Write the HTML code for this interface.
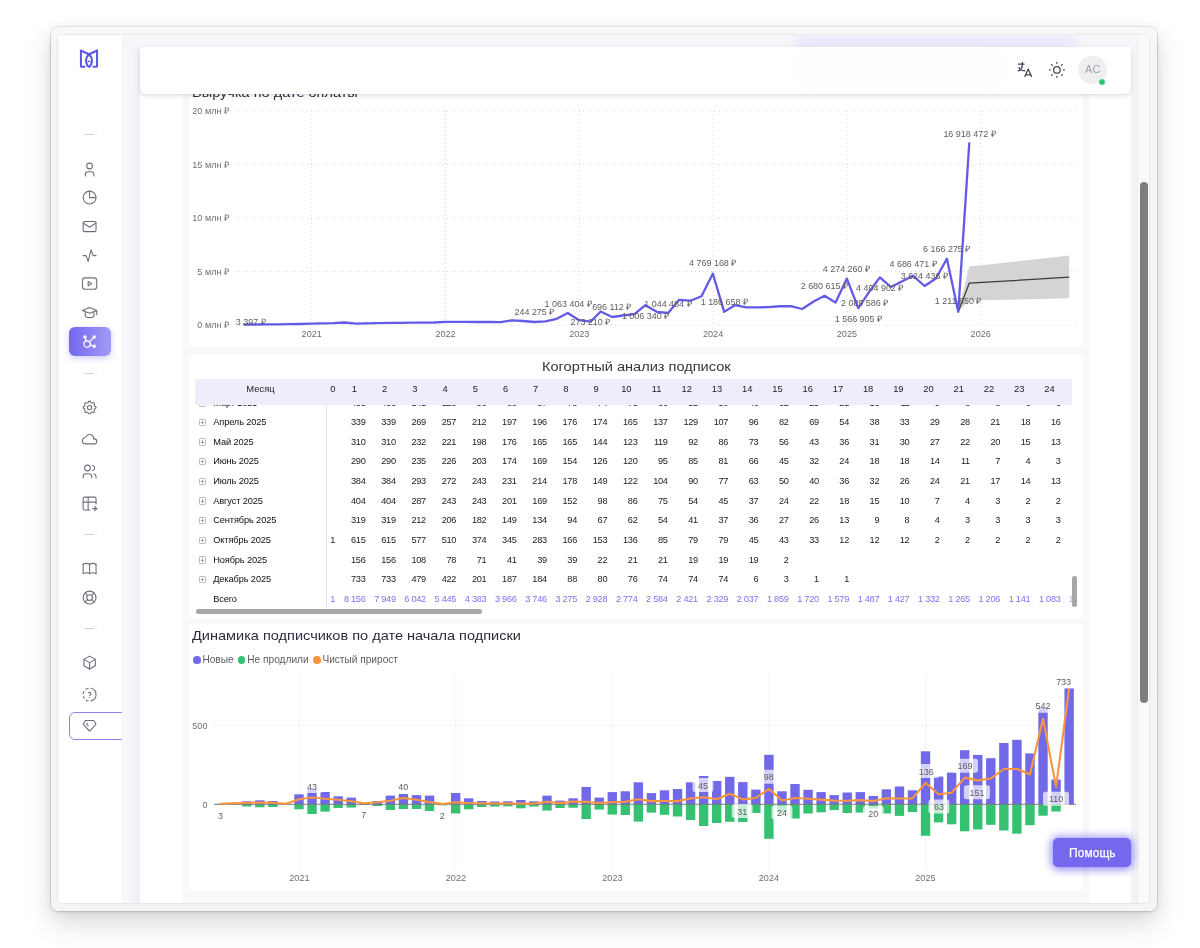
<!DOCTYPE html>
<html lang="ru"><head><meta charset="utf-8"><title>Dashboard</title>
<style>
html,body{margin:0;padding:0;background:#fff;}
body{width:1200px;height:948px;position:relative;overflow:hidden;font-family:"Liberation Sans", sans-serif;}
.abs,.ic,.sep,.active,.outl{position:absolute;}
.frame{position:absolute;left:50.5px;top:26.5px;width:1106.8px;height:884px;border-radius:7px;
 background:linear-gradient(180deg,#faf9f8 0,#f6f5f4 14px,#f5f4f3 100%);
 box-shadow:0 0 0 .6px rgba(0,0,0,.16),0 1px 3px rgba(0,0,0,.10),0 12px 28px rgba(0,0,0,.15),0 2px 12px rgba(0,0,0,.06);}
.inner{position:absolute;left:57.7px;top:34.7px;width:1091.5px;height:868.8px;border-radius:4px;overflow:hidden;background:#f4f3f8;
 box-shadow:0 0 0 .5px rgba(0,0,0,.10);}
.page{position:absolute;left:-57.7px;top:-34.7px;width:1200px;height:948px;will-change:transform;}
.sidebar{position:absolute;left:57.7px;top:34.7px;width:63.9px;height:869px;background:#fff;box-shadow:0 0 2px rgba(47,43,61,.05);overflow:hidden;}
.lstrip{position:absolute;left:121.6px;top:34.7px;width:18.4px;height:869px;background:linear-gradient(90deg,#f9f8fb 0%,#f6f5f9 50%,#efeef3 100%);}
.sbin{position:absolute;left:-57.7px;top:-34.7px;width:200px;height:948px;}
.sep{left:85.3px;width:8.4px;height:1px;background:#d0cfd5;}
.sep:before,.sep:after{content:"";position:absolute;top:0;width:1.4px;height:1px;background:#e2e1e6;}
.sep:before{left:-3.4px}.sep:after{right:-3.4px}
.active{left:68.8px;top:327px;width:42.2px;height:29.2px;border-radius:6px;background:linear-gradient(270deg,#a39cf5 0%,#7367f0 100%);box-shadow:0 2px 6px rgba(115,103,240,.35);}
.outl{left:69px;top:712px;width:70px;height:28.3px;border-radius:6px;border:1px solid #8c83f3;box-sizing:border-box;}
.glow{position:absolute;left:796px;top:37px;width:280px;height:13px;background:#dedafb;filter:blur(6px);opacity:.62;}
.glow2{position:absolute;left:800px;top:52px;width:200px;height:34px;background:#f3f1fe;filter:blur(8px);opacity:.18;}
.content{position:absolute;left:140px;top:47px;width:991.2px;height:870px;background:#fff;}
.report{position:absolute;left:183.2px;top:60px;width:905.6px;height:860px;background:#f8f7fa;}
.card{position:absolute;left:188.6px;width:894.5px;background:#fff;border-radius:3px;}
.topbar{position:absolute;left:140px;top:47px;width:991.2px;height:46.6px;background:#fff;border-radius:6px;box-shadow:0 2px 5px rgba(47,43,61,.12),0 1px 2px rgba(47,43,61,.06);}
.avatar{position:absolute;left:1078.4px;top:55.7px;width:28.8px;height:28.8px;border-radius:50%;background:#efeff0;color:#a3a1ab;font-size:10.9px;line-height:27.6px;text-align:center;letter-spacing:.2px;}
.dot{position:absolute;left:1097.9px;top:77.7px;width:6.6px;height:6.6px;border-radius:50%;background:#2cc56f;border:1.2px solid #fff;}
.track{position:absolute;left:1137.2px;top:34px;width:12.2px;height:870px;background:#fafafa;box-shadow:inset 1px 0 0 #ececec;}
.thumb{position:absolute;left:1139.6px;top:182px;width:8.2px;height:520.5px;border-radius:4.1px;background:#7e7e7e;}
.help{position:absolute;left:1053.3px;top:838.4px;width:78px;height:28.6px;border-radius:5px;background:#7468ee;color:#fff;font-size:11.9px;font-weight:normal;line-height:30.4px;text-align:center;box-shadow:0 0 9px 2px rgba(115,103,240,.55),0 2px 8px rgba(115,103,240,.45);letter-spacing:.1px;-webkit-text-stroke:.25px #fff;}
.t1{position:absolute;left:192.4px;font-size:13.4px;color:#2e2b3c;white-space:nowrap;line-height:16px;transform:scaleX(1.085);transform-origin:0 0;}
.t2{position:absolute;font-size:13.7px;color:#363636;white-space:nowrap;line-height:16px;transform:scaleX(1.065);transform-origin:0 0;}
svg text{font-family:"Liberation Sans", sans-serif;}
.grid{stroke:#d9d9d9;stroke-width:1;stroke-dasharray:1 3;}
.ax{font-size:9.1px;fill:#706e6c;}
.dl{font-size:8.95px;fill:#5f5d5b;}
.lg{position:absolute;top:654px;font-size:10.15px;color:#5f5d5b;line-height:12px;white-space:nowrap;}
.lgd{position:absolute;top:656px;width:7.7px;height:7.7px;border-radius:50%;}
.thead{position:absolute;left:195px;top:378.8px;width:876.6px;height:26.1px;background:#eeedfc;}
.th{position:absolute;top:383px;height:12px;line-height:12px;font-size:9.4px;color:#1d1c1c;text-align:center;white-space:nowrap;}
.rl{position:absolute;left:213.2px;height:12px;line-height:12px;font-size:9.25px;letter-spacing:-.12px;color:#0f0f0f;white-space:nowrap;}
.cv{position:absolute;width:30px;height:12px;line-height:12px;font-size:9.2px;letter-spacing:-.28px;color:#1c1b1b;text-align:right;white-space:nowrap;}
.tot{color:#7c73f1;}
.pm{position:absolute;left:199.2px;width:5.2px;height:5.2px;border:0.7px solid #bdbbb9;border-radius:1.2px;}
.pm:before{content:"";position:absolute;left:1px;top:2.25px;width:3.2px;height:.7px;background:#a5a3a1;}
.pm:after{content:"";position:absolute;left:2.25px;top:1px;width:.7px;height:3.2px;background:#a5a3a1;}
.vsep{position:absolute;left:325.9px;top:404.5px;width:1px;height:203px;background:#e3e0fb;}
.hscroll{position:absolute;left:195.5px;top:609px;width:286px;height:4.6px;border-radius:2.3px;background:#a8a8a8;}
.vscroll{position:absolute;left:1072.4px;top:576.4px;width:4.5px;height:30.7px;border-radius:2.3px;background:#a8a6a4;}
</style></head><body>
<div class="frame"></div>
<div class="inner"><div class="page">
 <div class="lstrip"></div>
 <div style="position:absolute;left:121.6px;top:34.7px;width:1016px;height:12.3px;background:linear-gradient(180deg,#f8f7fb,#f5f4f9)"></div>
 <div class="glow"></div>
 <div class="content"></div>
 <div class="report"></div>
 <!-- card 1 -->
 <div class="card" style="top:70px;height:277px;"></div>
 <div class="t1" style="top:85.3px;">Выручка по дате оплаты</div>
 <svg class="abs" style="left:0;top:0" width="1200" height="948" viewBox="0 0 1200 948">
 <g id="c1">
<line x1="235" y1="325.00" x2="1076" y2="325.00" class="grid"/>
<line x1="235" y1="271.50" x2="1076" y2="271.50" class="grid"/>
<line x1="235" y1="218.00" x2="1076" y2="218.00" class="grid"/>
<line x1="235" y1="164.50" x2="1076" y2="164.50" class="grid"/>
<line x1="235" y1="111.00" x2="1076" y2="111.00" class="grid"/>
<line x1="311.70" y1="111" x2="311.70" y2="325" class="grid"/>
<line x1="445.50" y1="111" x2="445.50" y2="325" class="grid"/>
<line x1="579.30" y1="111" x2="579.30" y2="325" class="grid"/>
<line x1="713.10" y1="111" x2="713.10" y2="325" class="grid"/>
<line x1="846.90" y1="111" x2="846.90" y2="325" class="grid"/>
<line x1="980.70" y1="111" x2="980.70" y2="325" class="grid"/>
<text x="229" y="328.20" text-anchor="end" class="ax">0 млн ₽</text>
<text x="229" y="274.70" text-anchor="end" class="ax">5 млн ₽</text>
<text x="229" y="221.20" text-anchor="end" class="ax">10 млн ₽</text>
<text x="229" y="167.70" text-anchor="end" class="ax">15 млн ₽</text>
<text x="229" y="114.20" text-anchor="end" class="ax">20 млн ₽</text>
<text x="311.70" y="337.2" text-anchor="middle" class="ax">2021</text>
<text x="445.50" y="337.2" text-anchor="middle" class="ax">2022</text>
<text x="579.30" y="337.2" text-anchor="middle" class="ax">2023</text>
<text x="713.10" y="337.2" text-anchor="middle" class="ax">2024</text>
<text x="846.90" y="337.2" text-anchor="middle" class="ax">2025</text>
<text x="980.70" y="337.2" text-anchor="middle" class="ax">2026</text>
<polygon points="958.26,311.80 969.25,266.6 1069.2,255.5 1069.2,298.3 969.25,300.4" fill="#d2d2d2" opacity="0.95"/>
<polyline points="958.26,311.80 969.25,283.2 1069.2,277.2" fill="none" stroke="#3c3c3c" stroke-width="1.25"/>
<polyline points="244.30,324.50 255.65,324.50 267.01,324.40 278.00,324.30 289.35,324.20 300.34,324.00 311.70,323.60 323.06,323.40 333.31,323.20 344.67,322.50 355.66,323.70 367.01,323.30 378.00,323.10 389.36,322.90 400.72,322.80 411.71,322.70 423.06,322.60 434.05,322.50 445.41,321.80 456.76,321.80 467.02,321.80 478.38,322.00 489.37,321.80 500.72,322.20 511.71,320.30 523.07,321.00 534.43,322.00 545.41,321.30 556.77,318.80 567.76,313.00 579.12,320.20 590.47,321.70 600.73,311.50 612.09,317.00 623.08,315.50 634.43,314.20 645.42,305.20 656.78,311.80 668.13,313.00 679.12,299.80 690.48,300.70 701.47,296.20 712.83,273.70 724.18,311.90 734.80,305.20 746.16,307.30 757.15,307.30 768.51,307.20 779.50,306.25 790.85,306.10 802.21,309.00 813.20,301.75 824.55,295.75 835.54,302.50 846.90,278.60 858.26,308.20 868.51,292.80 879.87,277.40 890.86,287.00 902.21,281.20 913.20,275.80 924.56,286.00 935.92,278.50 946.91,258.70 958.26,311.80 969.25,143.50" fill="none" stroke="#635be7" stroke-width="2.3" stroke-linejoin="round" stroke-linecap="round"/>
<text x="250.8" y="324.6" text-anchor="middle" class="dl">3 397 ₽</text>
<text x="534.4" y="314.7" text-anchor="middle" class="dl">244 275 ₽</text>
<text x="568.2" y="306.7" text-anchor="middle" class="dl">1 063 404 ₽</text>
<text x="590.4" y="324.6" text-anchor="middle" class="dl">273 210 ₽</text>
<text x="611.7" y="310.2" text-anchor="middle" class="dl">696 112 ₽</text>
<text x="645.5" y="318.8" text-anchor="middle" class="dl">1 006 340 ₽</text>
<text x="667.9" y="306.7" text-anchor="middle" class="dl">1 044 484 ₽</text>
<text x="712.7" y="266.4" text-anchor="middle" class="dl">4 769 168 ₽</text>
<text x="724.3" y="304.9" text-anchor="middle" class="dl">1 186 658 ₽</text>
<text x="824.3" y="289.4" text-anchor="middle" class="dl">2 680 615 ₽</text>
<text x="846.4" y="271.6" text-anchor="middle" class="dl">4 274 260 ₽</text>
<text x="858.4" y="321.7" text-anchor="middle" class="dl">1 566 905 ₽</text>
<text x="864.6" y="305.7" text-anchor="middle" class="dl">2 089 586 ₽</text>
<text x="879.7" y="290.6" text-anchor="middle" class="dl">4 404 902 ₽</text>
<text x="913.1" y="267.4" text-anchor="middle" class="dl">4 686 471 ₽</text>
<text x="924.3" y="278.9" text-anchor="middle" class="dl">3 624 436 ₽</text>
<text x="946.7" y="251.6" text-anchor="middle" class="dl">6 166 275 ₽</text>
<text x="958.1" y="304.4" text-anchor="middle" class="dl">1 211 850 ₽</text>
<text x="969.5" y="136.5" text-anchor="middle" class="dl">16 918 472 ₽</text>
 </g></svg>
 <!-- card 2 -->
 <div class="card" style="top:353.8px;height:264.8px;"></div>
 <div class="t2" style="left:541.6px;top:358.9px;">Когортный анализ подписок</div>
<div class="rl" style="top:396.83px">Март 2025</div>
<div class="pm" style="top:399.53px"></div>
<div class="cv" style="left:335.50px;top:396.83px">433</div>
<div class="cv" style="left:365.72px;top:396.83px">433</div>
<div class="cv" style="left:395.94px;top:396.83px">141</div>
<div class="cv" style="left:426.16px;top:396.83px">128</div>
<div class="cv" style="left:456.38px;top:396.83px">96</div>
<div class="cv" style="left:486.60px;top:396.83px">88</div>
<div class="cv" style="left:516.82px;top:396.83px">87</div>
<div class="cv" style="left:547.04px;top:396.83px">78</div>
<div class="cv" style="left:577.26px;top:396.83px">74</div>
<div class="cv" style="left:607.48px;top:396.83px">73</div>
<div class="cv" style="left:637.70px;top:396.83px">66</div>
<div class="cv" style="left:667.92px;top:396.83px">52</div>
<div class="cv" style="left:698.14px;top:396.83px">50</div>
<div class="cv" style="left:728.36px;top:396.83px">46</div>
<div class="cv" style="left:758.58px;top:396.83px">32</div>
<div class="cv" style="left:788.80px;top:396.83px">25</div>
<div class="cv" style="left:819.02px;top:396.83px">21</div>
<div class="cv" style="left:849.24px;top:396.83px">16</div>
<div class="cv" style="left:879.46px;top:396.83px">11</div>
<div class="cv" style="left:909.68px;top:396.83px">9</div>
<div class="cv" style="left:939.90px;top:396.83px">8</div>
<div class="cv" style="left:970.12px;top:396.83px">8</div>
<div class="cv" style="left:1000.34px;top:396.83px">6</div>
<div class="cv" style="left:1030.56px;top:396.83px">6</div>
<div class="rl" style="top:416.00px">Апрель 2025</div>
<div class="pm" style="top:418.70px"></div>
<div class="cv" style="left:335.50px;top:416.00px">339</div>
<div class="cv" style="left:365.72px;top:416.00px">339</div>
<div class="cv" style="left:395.94px;top:416.00px">269</div>
<div class="cv" style="left:426.16px;top:416.00px">257</div>
<div class="cv" style="left:456.38px;top:416.00px">212</div>
<div class="cv" style="left:486.60px;top:416.00px">197</div>
<div class="cv" style="left:516.82px;top:416.00px">196</div>
<div class="cv" style="left:547.04px;top:416.00px">176</div>
<div class="cv" style="left:577.26px;top:416.00px">174</div>
<div class="cv" style="left:607.48px;top:416.00px">165</div>
<div class="cv" style="left:637.70px;top:416.00px">137</div>
<div class="cv" style="left:667.92px;top:416.00px">129</div>
<div class="cv" style="left:698.14px;top:416.00px">107</div>
<div class="cv" style="left:728.36px;top:416.00px">96</div>
<div class="cv" style="left:758.58px;top:416.00px">82</div>
<div class="cv" style="left:788.80px;top:416.00px">69</div>
<div class="cv" style="left:819.02px;top:416.00px">54</div>
<div class="cv" style="left:849.24px;top:416.00px">38</div>
<div class="cv" style="left:879.46px;top:416.00px">33</div>
<div class="cv" style="left:909.68px;top:416.00px">29</div>
<div class="cv" style="left:939.90px;top:416.00px">28</div>
<div class="cv" style="left:970.12px;top:416.00px">21</div>
<div class="cv" style="left:1000.34px;top:416.00px">18</div>
<div class="cv" style="left:1030.56px;top:416.00px">16</div>
<div class="rl" style="top:435.67px">Май 2025</div>
<div class="pm" style="top:438.37px"></div>
<div class="cv" style="left:335.50px;top:435.67px">310</div>
<div class="cv" style="left:365.72px;top:435.67px">310</div>
<div class="cv" style="left:395.94px;top:435.67px">232</div>
<div class="cv" style="left:426.16px;top:435.67px">221</div>
<div class="cv" style="left:456.38px;top:435.67px">198</div>
<div class="cv" style="left:486.60px;top:435.67px">176</div>
<div class="cv" style="left:516.82px;top:435.67px">165</div>
<div class="cv" style="left:547.04px;top:435.67px">165</div>
<div class="cv" style="left:577.26px;top:435.67px">144</div>
<div class="cv" style="left:607.48px;top:435.67px">123</div>
<div class="cv" style="left:637.70px;top:435.67px">119</div>
<div class="cv" style="left:667.92px;top:435.67px">92</div>
<div class="cv" style="left:698.14px;top:435.67px">86</div>
<div class="cv" style="left:728.36px;top:435.67px">73</div>
<div class="cv" style="left:758.58px;top:435.67px">56</div>
<div class="cv" style="left:788.80px;top:435.67px">43</div>
<div class="cv" style="left:819.02px;top:435.67px">36</div>
<div class="cv" style="left:849.24px;top:435.67px">31</div>
<div class="cv" style="left:879.46px;top:435.67px">30</div>
<div class="cv" style="left:909.68px;top:435.67px">27</div>
<div class="cv" style="left:939.90px;top:435.67px">22</div>
<div class="cv" style="left:970.12px;top:435.67px">20</div>
<div class="cv" style="left:1000.34px;top:435.67px">15</div>
<div class="cv" style="left:1030.56px;top:435.67px">13</div>
<div class="rl" style="top:455.34px">Июнь 2025</div>
<div class="pm" style="top:458.04px"></div>
<div class="cv" style="left:335.50px;top:455.34px">290</div>
<div class="cv" style="left:365.72px;top:455.34px">290</div>
<div class="cv" style="left:395.94px;top:455.34px">235</div>
<div class="cv" style="left:426.16px;top:455.34px">226</div>
<div class="cv" style="left:456.38px;top:455.34px">203</div>
<div class="cv" style="left:486.60px;top:455.34px">174</div>
<div class="cv" style="left:516.82px;top:455.34px">169</div>
<div class="cv" style="left:547.04px;top:455.34px">154</div>
<div class="cv" style="left:577.26px;top:455.34px">126</div>
<div class="cv" style="left:607.48px;top:455.34px">120</div>
<div class="cv" style="left:637.70px;top:455.34px">95</div>
<div class="cv" style="left:667.92px;top:455.34px">85</div>
<div class="cv" style="left:698.14px;top:455.34px">81</div>
<div class="cv" style="left:728.36px;top:455.34px">66</div>
<div class="cv" style="left:758.58px;top:455.34px">45</div>
<div class="cv" style="left:788.80px;top:455.34px">32</div>
<div class="cv" style="left:819.02px;top:455.34px">24</div>
<div class="cv" style="left:849.24px;top:455.34px">18</div>
<div class="cv" style="left:879.46px;top:455.34px">18</div>
<div class="cv" style="left:909.68px;top:455.34px">14</div>
<div class="cv" style="left:939.90px;top:455.34px">11</div>
<div class="cv" style="left:970.12px;top:455.34px">7</div>
<div class="cv" style="left:1000.34px;top:455.34px">4</div>
<div class="cv" style="left:1030.56px;top:455.34px">3</div>
<div class="rl" style="top:475.01px">Июль 2025</div>
<div class="pm" style="top:477.71px"></div>
<div class="cv" style="left:335.50px;top:475.01px">384</div>
<div class="cv" style="left:365.72px;top:475.01px">384</div>
<div class="cv" style="left:395.94px;top:475.01px">293</div>
<div class="cv" style="left:426.16px;top:475.01px">272</div>
<div class="cv" style="left:456.38px;top:475.01px">243</div>
<div class="cv" style="left:486.60px;top:475.01px">231</div>
<div class="cv" style="left:516.82px;top:475.01px">214</div>
<div class="cv" style="left:547.04px;top:475.01px">178</div>
<div class="cv" style="left:577.26px;top:475.01px">149</div>
<div class="cv" style="left:607.48px;top:475.01px">122</div>
<div class="cv" style="left:637.70px;top:475.01px">104</div>
<div class="cv" style="left:667.92px;top:475.01px">90</div>
<div class="cv" style="left:698.14px;top:475.01px">77</div>
<div class="cv" style="left:728.36px;top:475.01px">63</div>
<div class="cv" style="left:758.58px;top:475.01px">50</div>
<div class="cv" style="left:788.80px;top:475.01px">40</div>
<div class="cv" style="left:819.02px;top:475.01px">36</div>
<div class="cv" style="left:849.24px;top:475.01px">32</div>
<div class="cv" style="left:879.46px;top:475.01px">26</div>
<div class="cv" style="left:909.68px;top:475.01px">24</div>
<div class="cv" style="left:939.90px;top:475.01px">21</div>
<div class="cv" style="left:970.12px;top:475.01px">17</div>
<div class="cv" style="left:1000.34px;top:475.01px">14</div>
<div class="cv" style="left:1030.56px;top:475.01px">13</div>
<div class="rl" style="top:494.68px">Август 2025</div>
<div class="pm" style="top:497.38px"></div>
<div class="cv" style="left:335.50px;top:494.68px">404</div>
<div class="cv" style="left:365.72px;top:494.68px">404</div>
<div class="cv" style="left:395.94px;top:494.68px">287</div>
<div class="cv" style="left:426.16px;top:494.68px">243</div>
<div class="cv" style="left:456.38px;top:494.68px">243</div>
<div class="cv" style="left:486.60px;top:494.68px">201</div>
<div class="cv" style="left:516.82px;top:494.68px">169</div>
<div class="cv" style="left:547.04px;top:494.68px">152</div>
<div class="cv" style="left:577.26px;top:494.68px">98</div>
<div class="cv" style="left:607.48px;top:494.68px">86</div>
<div class="cv" style="left:637.70px;top:494.68px">75</div>
<div class="cv" style="left:667.92px;top:494.68px">54</div>
<div class="cv" style="left:698.14px;top:494.68px">45</div>
<div class="cv" style="left:728.36px;top:494.68px">37</div>
<div class="cv" style="left:758.58px;top:494.68px">24</div>
<div class="cv" style="left:788.80px;top:494.68px">22</div>
<div class="cv" style="left:819.02px;top:494.68px">18</div>
<div class="cv" style="left:849.24px;top:494.68px">15</div>
<div class="cv" style="left:879.46px;top:494.68px">10</div>
<div class="cv" style="left:909.68px;top:494.68px">7</div>
<div class="cv" style="left:939.90px;top:494.68px">4</div>
<div class="cv" style="left:970.12px;top:494.68px">3</div>
<div class="cv" style="left:1000.34px;top:494.68px">2</div>
<div class="cv" style="left:1030.56px;top:494.68px">2</div>
<div class="rl" style="top:514.35px">Сентябрь 2025</div>
<div class="pm" style="top:517.05px"></div>
<div class="cv" style="left:335.50px;top:514.35px">319</div>
<div class="cv" style="left:365.72px;top:514.35px">319</div>
<div class="cv" style="left:395.94px;top:514.35px">212</div>
<div class="cv" style="left:426.16px;top:514.35px">206</div>
<div class="cv" style="left:456.38px;top:514.35px">182</div>
<div class="cv" style="left:486.60px;top:514.35px">149</div>
<div class="cv" style="left:516.82px;top:514.35px">134</div>
<div class="cv" style="left:547.04px;top:514.35px">94</div>
<div class="cv" style="left:577.26px;top:514.35px">67</div>
<div class="cv" style="left:607.48px;top:514.35px">62</div>
<div class="cv" style="left:637.70px;top:514.35px">54</div>
<div class="cv" style="left:667.92px;top:514.35px">41</div>
<div class="cv" style="left:698.14px;top:514.35px">37</div>
<div class="cv" style="left:728.36px;top:514.35px">36</div>
<div class="cv" style="left:758.58px;top:514.35px">27</div>
<div class="cv" style="left:788.80px;top:514.35px">26</div>
<div class="cv" style="left:819.02px;top:514.35px">13</div>
<div class="cv" style="left:849.24px;top:514.35px">9</div>
<div class="cv" style="left:879.46px;top:514.35px">8</div>
<div class="cv" style="left:909.68px;top:514.35px">4</div>
<div class="cv" style="left:939.90px;top:514.35px">3</div>
<div class="cv" style="left:970.12px;top:514.35px">3</div>
<div class="cv" style="left:1000.34px;top:514.35px">3</div>
<div class="cv" style="left:1030.56px;top:514.35px">3</div>
<div class="rl" style="top:534.02px">Октябрь 2025</div>
<div class="pm" style="top:536.72px"></div>
<div class="cv" style="left:322.70px;width:20px;text-align:center;top:534.02px">1</div>
<div class="cv" style="left:335.50px;top:534.02px">615</div>
<div class="cv" style="left:365.72px;top:534.02px">615</div>
<div class="cv" style="left:395.94px;top:534.02px">577</div>
<div class="cv" style="left:426.16px;top:534.02px">510</div>
<div class="cv" style="left:456.38px;top:534.02px">374</div>
<div class="cv" style="left:486.60px;top:534.02px">345</div>
<div class="cv" style="left:516.82px;top:534.02px">283</div>
<div class="cv" style="left:547.04px;top:534.02px">166</div>
<div class="cv" style="left:577.26px;top:534.02px">153</div>
<div class="cv" style="left:607.48px;top:534.02px">136</div>
<div class="cv" style="left:637.70px;top:534.02px">85</div>
<div class="cv" style="left:667.92px;top:534.02px">79</div>
<div class="cv" style="left:698.14px;top:534.02px">79</div>
<div class="cv" style="left:728.36px;top:534.02px">45</div>
<div class="cv" style="left:758.58px;top:534.02px">43</div>
<div class="cv" style="left:788.80px;top:534.02px">33</div>
<div class="cv" style="left:819.02px;top:534.02px">12</div>
<div class="cv" style="left:849.24px;top:534.02px">12</div>
<div class="cv" style="left:879.46px;top:534.02px">12</div>
<div class="cv" style="left:909.68px;top:534.02px">2</div>
<div class="cv" style="left:939.90px;top:534.02px">2</div>
<div class="cv" style="left:970.12px;top:534.02px">2</div>
<div class="cv" style="left:1000.34px;top:534.02px">2</div>
<div class="cv" style="left:1030.56px;top:534.02px">2</div>
<div class="rl" style="top:553.69px">Ноябрь 2025</div>
<div class="pm" style="top:556.39px"></div>
<div class="cv" style="left:335.50px;top:553.69px">156</div>
<div class="cv" style="left:365.72px;top:553.69px">156</div>
<div class="cv" style="left:395.94px;top:553.69px">108</div>
<div class="cv" style="left:426.16px;top:553.69px">78</div>
<div class="cv" style="left:456.38px;top:553.69px">71</div>
<div class="cv" style="left:486.60px;top:553.69px">41</div>
<div class="cv" style="left:516.82px;top:553.69px">39</div>
<div class="cv" style="left:547.04px;top:553.69px">39</div>
<div class="cv" style="left:577.26px;top:553.69px">22</div>
<div class="cv" style="left:607.48px;top:553.69px">21</div>
<div class="cv" style="left:637.70px;top:553.69px">21</div>
<div class="cv" style="left:667.92px;top:553.69px">19</div>
<div class="cv" style="left:698.14px;top:553.69px">19</div>
<div class="cv" style="left:728.36px;top:553.69px">19</div>
<div class="cv" style="left:758.58px;top:553.69px">2</div>
<div class="rl" style="top:573.36px">Декабрь 2025</div>
<div class="pm" style="top:576.06px"></div>
<div class="cv" style="left:335.50px;top:573.36px">733</div>
<div class="cv" style="left:365.72px;top:573.36px">733</div>
<div class="cv" style="left:395.94px;top:573.36px">479</div>
<div class="cv" style="left:426.16px;top:573.36px">422</div>
<div class="cv" style="left:456.38px;top:573.36px">201</div>
<div class="cv" style="left:486.60px;top:573.36px">187</div>
<div class="cv" style="left:516.82px;top:573.36px">184</div>
<div class="cv" style="left:547.04px;top:573.36px">88</div>
<div class="cv" style="left:577.26px;top:573.36px">80</div>
<div class="cv" style="left:607.48px;top:573.36px">76</div>
<div class="cv" style="left:637.70px;top:573.36px">74</div>
<div class="cv" style="left:667.92px;top:573.36px">74</div>
<div class="cv" style="left:698.14px;top:573.36px">74</div>
<div class="cv" style="left:728.36px;top:573.36px">6</div>
<div class="cv" style="left:758.58px;top:573.36px">3</div>
<div class="cv" style="left:788.80px;top:573.36px">1</div>
<div class="cv" style="left:819.02px;top:573.36px">1</div>
<div class="rl" style="top:593.03px">Всего</div>
<div class="cv tot" style="left:322.70px;width:20px;text-align:center;top:593.03px">1</div>
<div class="cv tot" style="left:335.50px;top:593.03px">8 156</div>
<div class="cv tot" style="left:365.72px;top:593.03px">7 949</div>
<div class="cv tot" style="left:395.94px;top:593.03px">6 042</div>
<div class="cv tot" style="left:426.16px;top:593.03px">5 445</div>
<div class="cv tot" style="left:456.38px;top:593.03px">4 383</div>
<div class="cv tot" style="left:486.60px;top:593.03px">3 966</div>
<div class="cv tot" style="left:516.82px;top:593.03px">3 746</div>
<div class="cv tot" style="left:547.04px;top:593.03px">3 275</div>
<div class="cv tot" style="left:577.26px;top:593.03px">2 928</div>
<div class="cv tot" style="left:607.48px;top:593.03px">2 774</div>
<div class="cv tot" style="left:637.70px;top:593.03px">2 584</div>
<div class="cv tot" style="left:667.92px;top:593.03px">2 421</div>
<div class="cv tot" style="left:698.14px;top:593.03px">2 329</div>
<div class="cv tot" style="left:728.36px;top:593.03px">2 037</div>
<div class="cv tot" style="left:758.58px;top:593.03px">1 859</div>
<div class="cv tot" style="left:788.80px;top:593.03px">1 720</div>
<div class="cv tot" style="left:819.02px;top:593.03px">1 579</div>
<div class="cv tot" style="left:849.24px;top:593.03px">1 487</div>
<div class="cv tot" style="left:879.46px;top:593.03px">1 427</div>
<div class="cv tot" style="left:909.68px;top:593.03px">1 332</div>
<div class="cv tot" style="left:939.90px;top:593.03px">1 265</div>
<div class="cv tot" style="left:970.12px;top:593.03px">1 206</div>
<div class="cv tot" style="left:1000.34px;top:593.03px">1 141</div>
<div class="cv tot" style="left:1030.56px;top:593.03px">1 083</div>
<div class="cv tot" style="left:1068.6px;width:3.4px;overflow:hidden;text-align:left;top:593.03px;opacity:.55">1 030</div>
<div class="thead"></div>
<div class="th" style="left:230.5px;width:60px;">Месяц</div>
<div class="th" style="left:317.80px;width:30px;">0</div>
<div class="th" style="left:339.40px;width:30px;">1</div>
<div class="th" style="left:369.62px;width:30px;">2</div>
<div class="th" style="left:399.84px;width:30px;">3</div>
<div class="th" style="left:430.06px;width:30px;">4</div>
<div class="th" style="left:460.28px;width:30px;">5</div>
<div class="th" style="left:490.50px;width:30px;">6</div>
<div class="th" style="left:520.72px;width:30px;">7</div>
<div class="th" style="left:550.94px;width:30px;">8</div>
<div class="th" style="left:581.16px;width:30px;">9</div>
<div class="th" style="left:611.38px;width:30px;">10</div>
<div class="th" style="left:641.60px;width:30px;">11</div>
<div class="th" style="left:671.82px;width:30px;">12</div>
<div class="th" style="left:702.04px;width:30px;">13</div>
<div class="th" style="left:732.26px;width:30px;">14</div>
<div class="th" style="left:762.48px;width:30px;">15</div>
<div class="th" style="left:792.70px;width:30px;">16</div>
<div class="th" style="left:822.92px;width:30px;">17</div>
<div class="th" style="left:853.14px;width:30px;">18</div>
<div class="th" style="left:883.36px;width:30px;">19</div>
<div class="th" style="left:913.58px;width:30px;">20</div>
<div class="th" style="left:943.80px;width:30px;">21</div>
<div class="th" style="left:974.02px;width:30px;">22</div>
<div class="th" style="left:1004.24px;width:30px;">23</div>
<div class="th" style="left:1034.46px;width:30px;">24</div>
<div class="vsep"></div>
<div class="hscroll"></div><div class="vscroll"></div>
 <!-- card 3 -->
 <div class="card" style="top:624.3px;height:266.8px;"></div>
 <div class="t1" style="top:628.3px;">Динамика подписчиков по дате начала подписки</div>
 <div class="lgd" style="left:193.2px;background:#7169e8"></div><div class="lg" style="left:202.4px">Новые</div>
 <div class="lgd" style="left:237.8px;background:#36c172"></div><div class="lg" style="left:247.3px">Не продлили</div>
 <div class="lgd" style="left:313.1px;background:#f9953f"></div><div class="lg" style="left:322.4px">Чистый прирост</div>
 <svg class="abs" style="left:0;top:0" width="1200" height="948" viewBox="0 0 1200 948">
 <g id="c3">
<line x1="299.40" y1="675.5" x2="299.40" y2="870" class="grid"/>
<line x1="455.90" y1="675.5" x2="455.90" y2="870" class="grid"/>
<line x1="612.40" y1="675.5" x2="612.40" y2="870" class="grid"/>
<line x1="768.90" y1="675.5" x2="768.90" y2="870" class="grid"/>
<line x1="925.40" y1="675.5" x2="925.40" y2="870" class="grid"/>
<line x1="214" y1="725.3" x2="1076" y2="725.3" class="grid"/>
<text x="207.5" y="728.6" text-anchor="end" class="ax">500</text>
<text x="207.5" y="807.6" text-anchor="end" class="ax">0</text>
<text x="299.40" y="881" text-anchor="middle" class="ax">2021</text>
<text x="455.90" y="881" text-anchor="middle" class="ax">2022</text>
<text x="612.40" y="881" text-anchor="middle" class="ax">2023</text>
<text x="768.90" y="881" text-anchor="middle" class="ax">2024</text>
<text x="925.40" y="881" text-anchor="middle" class="ax">2025</text>
<rect x="215.98" y="803.90" width="9.4" height="0.40" fill="#7169e8"/>
<rect x="229.04" y="803.80" width="9.4" height="0.50" fill="#7169e8"/>
<rect x="242.09" y="801.30" width="9.4" height="3.00" fill="#7169e8"/>
<rect x="255.14" y="800.30" width="9.4" height="4.00" fill="#7169e8"/>
<rect x="268.19" y="801.00" width="9.4" height="3.30" fill="#7169e8"/>
<rect x="281.25" y="803.80" width="9.4" height="0.50" fill="#7169e8"/>
<rect x="294.30" y="794.30" width="9.4" height="10.00" fill="#7169e8"/>
<rect x="307.35" y="788.60" width="9.4" height="15.70" fill="#7169e8"/>
<rect x="320.41" y="792.00" width="9.4" height="12.30" fill="#7169e8"/>
<rect x="333.46" y="796.30" width="9.4" height="8.00" fill="#7169e8"/>
<rect x="346.51" y="797.60" width="9.4" height="6.70" fill="#7169e8"/>
<rect x="359.56" y="803.30" width="9.4" height="1.00" fill="#7169e8"/>
<rect x="372.62" y="801.00" width="9.4" height="3.30" fill="#7169e8"/>
<rect x="385.67" y="795.60" width="9.4" height="8.70" fill="#7169e8"/>
<rect x="398.72" y="794.00" width="9.4" height="10.30" fill="#7169e8"/>
<rect x="411.78" y="795.10" width="9.4" height="9.20" fill="#7169e8"/>
<rect x="424.83" y="795.60" width="9.4" height="8.70" fill="#7169e8"/>
<rect x="437.88" y="803.80" width="9.4" height="0.50" fill="#7169e8"/>
<rect x="450.94" y="793.00" width="9.4" height="11.30" fill="#7169e8"/>
<rect x="463.99" y="798.30" width="9.4" height="6.00" fill="#7169e8"/>
<rect x="477.04" y="801.00" width="9.4" height="3.30" fill="#7169e8"/>
<rect x="490.10" y="801.50" width="9.4" height="2.80" fill="#7169e8"/>
<rect x="503.15" y="801.30" width="9.4" height="3.00" fill="#7169e8"/>
<rect x="516.20" y="800.00" width="9.4" height="4.30" fill="#7169e8"/>
<rect x="529.25" y="801.30" width="9.4" height="3.00" fill="#7169e8"/>
<rect x="542.31" y="795.60" width="9.4" height="8.70" fill="#7169e8"/>
<rect x="555.36" y="800.60" width="9.4" height="3.70" fill="#7169e8"/>
<rect x="568.41" y="798.30" width="9.4" height="6.00" fill="#7169e8"/>
<rect x="581.47" y="787.00" width="9.4" height="17.30" fill="#7169e8"/>
<rect x="594.52" y="797.60" width="9.4" height="6.70" fill="#7169e8"/>
<rect x="607.57" y="792.10" width="9.4" height="12.20" fill="#7169e8"/>
<rect x="620.62" y="791.30" width="9.4" height="13.00" fill="#7169e8"/>
<rect x="633.68" y="782.30" width="9.4" height="22.00" fill="#7169e8"/>
<rect x="646.73" y="793.10" width="9.4" height="11.20" fill="#7169e8"/>
<rect x="659.78" y="790.30" width="9.4" height="14.00" fill="#7169e8"/>
<rect x="672.84" y="789.00" width="9.4" height="15.30" fill="#7169e8"/>
<rect x="685.89" y="782.30" width="9.4" height="22.00" fill="#7169e8"/>
<rect x="698.94" y="776.00" width="9.4" height="28.30" fill="#7169e8"/>
<rect x="712.00" y="781.00" width="9.4" height="23.30" fill="#7169e8"/>
<rect x="725.05" y="776.80" width="9.4" height="27.50" fill="#7169e8"/>
<rect x="738.10" y="782.10" width="9.4" height="22.20" fill="#7169e8"/>
<rect x="751.15" y="789.60" width="9.4" height="14.70" fill="#7169e8"/>
<rect x="764.21" y="754.80" width="9.4" height="49.50" fill="#7169e8"/>
<rect x="777.26" y="791.30" width="9.4" height="13.00" fill="#7169e8"/>
<rect x="790.31" y="784.00" width="9.4" height="20.30" fill="#7169e8"/>
<rect x="803.37" y="789.80" width="9.4" height="14.50" fill="#7169e8"/>
<rect x="816.42" y="792.10" width="9.4" height="12.20" fill="#7169e8"/>
<rect x="829.47" y="795.10" width="9.4" height="9.20" fill="#7169e8"/>
<rect x="842.53" y="792.50" width="9.4" height="11.80" fill="#7169e8"/>
<rect x="855.58" y="792.10" width="9.4" height="12.20" fill="#7169e8"/>
<rect x="868.63" y="796.00" width="9.4" height="8.30" fill="#7169e8"/>
<rect x="881.68" y="789.30" width="9.4" height="15.00" fill="#7169e8"/>
<rect x="894.74" y="786.50" width="9.4" height="17.80" fill="#7169e8"/>
<rect x="907.79" y="790.30" width="9.4" height="14.00" fill="#7169e8"/>
<rect x="920.84" y="751.30" width="9.4" height="53.00" fill="#7169e8"/>
<rect x="933.90" y="776.60" width="9.4" height="27.70" fill="#7169e8"/>
<rect x="946.95" y="772.60" width="9.4" height="31.70" fill="#7169e8"/>
<rect x="960.00" y="750.20" width="9.4" height="54.10" fill="#7169e8"/>
<rect x="973.06" y="754.90" width="9.4" height="49.40" fill="#7169e8"/>
<rect x="986.11" y="758.20" width="9.4" height="46.10" fill="#7169e8"/>
<rect x="999.16" y="743.00" width="9.4" height="61.30" fill="#7169e8"/>
<rect x="1012.22" y="739.80" width="9.4" height="64.50" fill="#7169e8"/>
<rect x="1025.27" y="753.40" width="9.4" height="50.90" fill="#7169e8"/>
<rect x="1038.32" y="707.30" width="9.4" height="97.00" fill="#7169e8"/>
<rect x="1051.37" y="779.60" width="9.4" height="24.70" fill="#7169e8"/>
<rect x="1064.43" y="688.10" width="9.4" height="116.20" fill="#7169e8"/>
<rect x="242.09" y="804.30" width="9.4" height="2.20" fill="#36c172"/>
<rect x="255.14" y="804.30" width="9.4" height="3.00" fill="#36c172"/>
<rect x="268.19" y="804.30" width="9.4" height="2.70" fill="#36c172"/>
<rect x="281.25" y="804.30" width="9.4" height="0.30" fill="#36c172"/>
<rect x="294.30" y="804.30" width="9.4" height="5.00" fill="#36c172"/>
<rect x="307.35" y="804.30" width="9.4" height="9.70" fill="#36c172"/>
<rect x="320.41" y="804.30" width="9.4" height="7.30" fill="#36c172"/>
<rect x="333.46" y="804.30" width="9.4" height="3.70" fill="#36c172"/>
<rect x="346.51" y="804.30" width="9.4" height="3.30" fill="#36c172"/>
<rect x="359.56" y="804.30" width="9.4" height="0.70" fill="#36c172"/>
<rect x="372.62" y="804.30" width="9.4" height="1.70" fill="#36c172"/>
<rect x="385.67" y="804.30" width="9.4" height="5.70" fill="#36c172"/>
<rect x="398.72" y="804.30" width="9.4" height="4.70" fill="#36c172"/>
<rect x="411.78" y="804.30" width="9.4" height="4.70" fill="#36c172"/>
<rect x="424.83" y="804.30" width="9.4" height="6.70" fill="#36c172"/>
<rect x="437.88" y="804.30" width="9.4" height="1.00" fill="#36c172"/>
<rect x="450.94" y="804.30" width="9.4" height="9.20" fill="#36c172"/>
<rect x="463.99" y="804.30" width="9.4" height="5.00" fill="#36c172"/>
<rect x="477.04" y="804.30" width="9.4" height="2.70" fill="#36c172"/>
<rect x="490.10" y="804.30" width="9.4" height="2.30" fill="#36c172"/>
<rect x="503.15" y="804.30" width="9.4" height="2.00" fill="#36c172"/>
<rect x="516.20" y="804.30" width="9.4" height="4.00" fill="#36c172"/>
<rect x="529.25" y="804.30" width="9.4" height="2.30" fill="#36c172"/>
<rect x="542.31" y="804.30" width="9.4" height="6.30" fill="#36c172"/>
<rect x="555.36" y="804.30" width="9.4" height="3.70" fill="#36c172"/>
<rect x="568.41" y="804.30" width="9.4" height="3.50" fill="#36c172"/>
<rect x="581.47" y="804.30" width="9.4" height="14.80" fill="#36c172"/>
<rect x="594.52" y="804.30" width="9.4" height="5.30" fill="#36c172"/>
<rect x="607.57" y="804.30" width="9.4" height="10.30" fill="#36c172"/>
<rect x="620.62" y="804.30" width="9.4" height="10.70" fill="#36c172"/>
<rect x="633.68" y="804.30" width="9.4" height="17.30" fill="#36c172"/>
<rect x="646.73" y="804.30" width="9.4" height="8.30" fill="#36c172"/>
<rect x="659.78" y="804.30" width="9.4" height="10.50" fill="#36c172"/>
<rect x="672.84" y="804.30" width="9.4" height="12.20" fill="#36c172"/>
<rect x="685.89" y="804.30" width="9.4" height="15.80" fill="#36c172"/>
<rect x="698.94" y="804.30" width="9.4" height="21.70" fill="#36c172"/>
<rect x="712.00" y="804.30" width="9.4" height="18.70" fill="#36c172"/>
<rect x="725.05" y="804.30" width="9.4" height="17.50" fill="#36c172"/>
<rect x="738.10" y="804.30" width="9.4" height="17.70" fill="#36c172"/>
<rect x="751.15" y="804.30" width="9.4" height="8.70" fill="#36c172"/>
<rect x="764.21" y="804.30" width="9.4" height="34.50" fill="#36c172"/>
<rect x="777.26" y="804.30" width="9.4" height="8.30" fill="#36c172"/>
<rect x="790.31" y="804.30" width="9.4" height="14.20" fill="#36c172"/>
<rect x="803.37" y="804.30" width="9.4" height="9.20" fill="#36c172"/>
<rect x="816.42" y="804.30" width="9.4" height="8.00" fill="#36c172"/>
<rect x="829.47" y="804.30" width="9.4" height="5.80" fill="#36c172"/>
<rect x="842.53" y="804.30" width="9.4" height="8.70" fill="#36c172"/>
<rect x="855.58" y="804.30" width="9.4" height="8.30" fill="#36c172"/>
<rect x="868.63" y="804.30" width="9.4" height="4.20" fill="#36c172"/>
<rect x="881.68" y="804.30" width="9.4" height="9.20" fill="#36c172"/>
<rect x="894.74" y="804.30" width="9.4" height="11.60" fill="#36c172"/>
<rect x="907.79" y="804.30" width="9.4" height="7.80" fill="#36c172"/>
<rect x="920.84" y="804.30" width="9.4" height="31.50" fill="#36c172"/>
<rect x="933.90" y="804.30" width="9.4" height="18.10" fill="#36c172"/>
<rect x="946.95" y="804.30" width="9.4" height="20.00" fill="#36c172"/>
<rect x="960.00" y="804.30" width="9.4" height="27.00" fill="#36c172"/>
<rect x="973.06" y="804.30" width="9.4" height="25.20" fill="#36c172"/>
<rect x="986.11" y="804.30" width="9.4" height="20.50" fill="#36c172"/>
<rect x="999.16" y="804.30" width="9.4" height="26.20" fill="#36c172"/>
<rect x="1012.22" y="804.30" width="9.4" height="29.40" fill="#36c172"/>
<rect x="1025.27" y="804.30" width="9.4" height="20.90" fill="#36c172"/>
<rect x="1038.32" y="804.30" width="9.4" height="11.40" fill="#36c172"/>
<rect x="1051.37" y="804.30" width="9.4" height="7.20" fill="#36c172"/>
<line x1="214" y1="804.3" x2="1076" y2="804.3" stroke="#6e6e6e" stroke-width="0.9"/>
<polyline points="220.68,803.80 233.74,803.30 246.79,802.80 259.84,802.60 272.89,802.80 285.95,803.80 299.00,799.30 312.05,797.50 325.11,798.80 338.16,799.80 351.21,801.30 364.26,803.20 377.32,802.30 390.37,800.80 403.42,798.00 416.48,799.80 429.53,802.10 442.58,804.00 455.64,802.30 468.69,803.00 481.74,803.30 494.80,803.50 507.85,803.50 520.90,803.50 533.95,803.50 547.01,801.80 560.06,803.10 573.11,801.50 586.17,801.90 599.22,803.00 612.27,802.30 625.33,801.80 638.38,799.30 651.43,801.10 664.48,801.00 677.54,801.10 690.59,798.50 703.64,797.20 716.70,799.30 729.75,793.80 742.80,799.40 755.86,798.00 768.91,788.80 781.96,800.50 795.01,798.00 808.07,798.80 821.12,799.60 834.17,800.60 847.23,800.80 860.28,800.10 873.33,801.10 886.38,798.30 899.44,798.50 912.49,798.40 925.54,782.80 938.60,794.30 951.65,792.70 964.70,777.60 977.76,780.40 990.81,778.50 1003.86,769.00 1016.92,769.00 1029.97,774.30 1043.02,718.70 1056.07,786.90 1069.13,688.50" fill="none" stroke="#f9953f" stroke-width="2.1" stroke-linejoin="round" stroke-linecap="round"/>
<rect x="212.70" y="808.10" width="15.60" height="14" rx="2.5" fill="#ffffff" opacity="0.7"/>
<text x="220.5" y="818.6" text-anchor="middle" class="dl">3</text>
<rect x="301.60" y="779.10" width="20.80" height="14" rx="2.5" fill="#ffffff" opacity="0.7"/>
<text x="312" y="789.6" text-anchor="middle" class="dl">43</text>
<rect x="355.90" y="807.90" width="15.60" height="14" rx="2.5" fill="#ffffff" opacity="0.7"/>
<text x="363.7" y="818.4" text-anchor="middle" class="dl">7</text>
<rect x="392.90" y="779.10" width="20.80" height="14" rx="2.5" fill="#ffffff" opacity="0.7"/>
<text x="403.3" y="789.6" text-anchor="middle" class="dl">40</text>
<rect x="434.40" y="808.10" width="15.60" height="14" rx="2.5" fill="#ffffff" opacity="0.7"/>
<text x="442.2" y="818.6" text-anchor="middle" class="dl">2</text>
<rect x="692.60" y="778.10" width="20.80" height="14" rx="2.5" fill="#ffffff" opacity="0.7"/>
<text x="703" y="788.6" text-anchor="middle" class="dl">45</text>
<rect x="731.80" y="804.10" width="20.80" height="14" rx="2.5" fill="#ffffff" opacity="0.7"/>
<text x="742.2" y="814.6" text-anchor="middle" class="dl">31</text>
<rect x="758.30" y="769.80" width="20.80" height="14" rx="2.5" fill="#ffffff" opacity="0.7"/>
<text x="768.7" y="780.3" text-anchor="middle" class="dl">98</text>
<rect x="771.60" y="805.50" width="20.80" height="14" rx="2.5" fill="#ffffff" opacity="0.7"/>
<text x="782" y="816" text-anchor="middle" class="dl">24</text>
<rect x="862.90" y="806.10" width="20.80" height="14" rx="2.5" fill="#ffffff" opacity="0.7"/>
<text x="873.3" y="816.6" text-anchor="middle" class="dl">20</text>
<rect x="913.20" y="764.00" width="26.00" height="14" rx="2.5" fill="#ffffff" opacity="0.7"/>
<text x="926.2" y="774.5" text-anchor="middle" class="dl">136</text>
<rect x="928.50" y="799.50" width="20.80" height="14" rx="2.5" fill="#ffffff" opacity="0.7"/>
<text x="938.9" y="810" text-anchor="middle" class="dl">63</text>
<rect x="952.00" y="758.70" width="26.00" height="14" rx="2.5" fill="#ffffff" opacity="0.7"/>
<text x="965" y="769.2" text-anchor="middle" class="dl">169</text>
<rect x="963.90" y="785.20" width="26.00" height="14" rx="2.5" fill="#ffffff" opacity="0.7"/>
<text x="976.9" y="795.7" text-anchor="middle" class="dl">151</text>
<rect x="1030.00" y="698.80" width="26.00" height="14" rx="2.5" fill="#ffffff" opacity="0.7"/>
<text x="1043" y="709.3" text-anchor="middle" class="dl">542</text>
<rect x="1043.00" y="791.80" width="26.00" height="14" rx="2.5" fill="#ffffff" opacity="0.7"/>
<text x="1056" y="802.3" text-anchor="middle" class="dl">110</text>
<rect x="1050.60" y="674.60" width="26.00" height="14" rx="2.5" fill="#ffffff" opacity="0.7"/>
<text x="1063.6" y="685.1" text-anchor="middle" class="dl">733</text>
 </g></svg>
 <!-- topbar -->
 <div class="topbar"></div>
 <svg class="ic" style="left:1015.00px;top:59.90px" width="19.8" height="19.8" viewBox="0 0 24 24" fill="none" stroke="#4b4858" stroke-width="1.6" stroke-linecap="round" stroke-linejoin="round"><path d="M4 5h7"/><path d="M9 3v2c0 4.418 -2.239 8 -5 8"/><path d="M5 9c0 2.144 2.952 3.908 6.700 4"/><path d="M12 20l4 -9l4 9"/><path d="M19.100 18h-6.200"/></svg>
 <svg class="ic" style="left:1046.70px;top:60.10px" width="19.8" height="19.8" viewBox="0 0 24 24" fill="none" stroke="#4b4858" stroke-width="1.6" stroke-linecap="round" stroke-linejoin="round"><path d="M12 12m-4 0a4 4 0 1 0 8 0a4 4 0 1 0 -8 0"/><path d="M3 12h1m8 -9v1m8 8h1m-9 8v1m-6.400 -15.400l.7 .7m12.100 -.7l-.7 .7m0 11.400l.7 .7m-12.100 -.7l-.7 .7"/></svg>
 <div class="glow2"></div>
 <div class="avatar">AC</div><div class="dot"></div>
 <!-- scrollbar -->
 <div class="track"></div><div class="thumb"></div>
 <div class="help">Помощь</div>
 <!-- sidebar -->
 <div class="sidebar"><div class="sbin">
 <svg class="ic" style="left:80.80px;top:160.90px" width="17.2" height="17.2" viewBox="0 0 24 24" fill="none" stroke="#6f6c7a" stroke-width="1.5" stroke-linecap="round" stroke-linejoin="round"><path d="M8 7a4 4 0 1 0 8 0a4 4 0 0 0 -8 0"/><path d="M6 21v-2a4 4 0 0 1 4 -4h4a4 4 0 0 1 4 4v2"/></svg>
<svg class="ic" style="left:80.80px;top:189.40px" width="17.2" height="17.2" viewBox="0 0 24 24" fill="none" stroke="#6f6c7a" stroke-width="1.5" stroke-linecap="round" stroke-linejoin="round"><path d="M12 3v9h9"/><path d="M12 12m-9 0a9 9 0 1 0 18 0a9 9 0 1 0 -18 0"/></svg>
<svg class="ic" style="left:80.80px;top:218.00px" width="17.2" height="17.2" viewBox="0 0 24 24" fill="none" stroke="#6f6c7a" stroke-width="1.5" stroke-linecap="round" stroke-linejoin="round"><path d="M3 7a2 2 0 0 1 2 -2h14a2 2 0 0 1 2 2v10a2 2 0 0 1 -2 2h-14a2 2 0 0 1 -2 -2v-10z"/><path d="M3 7l9 6l9 -6"/></svg>
<svg class="ic" style="left:80.80px;top:246.80px" width="17.2" height="17.2" viewBox="0 0 24 24" fill="none" stroke="#6f6c7a" stroke-width="1.5" stroke-linecap="round" stroke-linejoin="round"><path d="M3 12h4l3 8l4 -16l3 8h4"/></svg>
<svg class="ic" style="left:80.80px;top:275.40px" width="17.2" height="17.2" viewBox="0 0 24 24" fill="none" stroke="#6f6c7a" stroke-width="1.5" stroke-linecap="round" stroke-linejoin="round"><path d="M2 8a4 4 0 0 1 4 -4h12a4 4 0 0 1 4 4v8a4 4 0 0 1 -4 4h-12a4 4 0 0 1 -4 -4v-8z"/><path d="M10 9l5 3l-5 3z"/></svg>
<svg class="ic" style="left:80.80px;top:304.40px" width="17.2" height="17.2" viewBox="0 0 24 24" fill="none" stroke="#6f6c7a" stroke-width="1.5" stroke-linecap="round" stroke-linejoin="round"><path d="M22 9l-10 -4l-10 4l10 4l10 -4v6"/><path d="M6 10.6v5.4a6 3 0 0 0 12 0v-5.4"/></svg>
<svg class="ic" style="left:80.80px;top:399.40px" width="17.2" height="17.2" viewBox="0 0 24 24" fill="none" stroke="#6f6c7a" stroke-width="1.5" stroke-linecap="round" stroke-linejoin="round"><path d="M10.325 4.317c.426 -1.756 2.924 -1.756 3.35 0a1.724 1.724 0 0 0 2.573 1.066c1.543 -.94 3.31 .826 2.37 2.37a1.724 1.724 0 0 0 1.065 2.572c1.756 .426 1.756 2.924 0 3.35a1.724 1.724 0 0 0 -1.066 2.573c.94 1.543 -.826 3.31 -2.37 2.37a1.724 1.724 0 0 0 -2.572 1.065c-.426 1.756 -2.924 1.756 -3.35 0a1.724 1.724 0 0 0 -2.573 -1.066c-1.543 .94 -3.31 -.826 -2.37 -2.37a1.724 1.724 0 0 0 -1.065 -2.572c-1.756 -.426 -1.756 -2.924 0 -3.35a1.724 1.724 0 0 0 1.066 -2.573c-.94 -1.543 .826 -3.31 2.37 -2.37c1 .608 2.296 .07 2.572 -1.065z"/><path d="M9 12a3 3 0 1 0 6 0a3 3 0 0 0 -6 0"/></svg>
<svg class="ic" style="left:80.80px;top:431.40px" width="17.2" height="17.2" viewBox="0 0 24 24" fill="none" stroke="#6f6c7a" stroke-width="1.5" stroke-linecap="round" stroke-linejoin="round"><path d="M6.657 18c-2.572 0 -4.657 -2.007 -4.657 -4.483c0 -2.475 2.085 -4.482 4.657 -4.482c.393 -1.762 1.794 -3.2 3.675 -3.773c1.88 -.572 3.956 -.193 5.444 1c1.488 1.19 2.162 3.007 1.77 4.769h.99c1.913 0 3.464 1.56 3.464 3.486c0 1.927 -1.551 3.487 -3.465 3.487h-11.878"/></svg>
<svg class="ic" style="left:80.80px;top:463.20px" width="17.2" height="17.2" viewBox="0 0 24 24" fill="none" stroke="#6f6c7a" stroke-width="1.5" stroke-linecap="round" stroke-linejoin="round"><path d="M9 7m-4 0a4 4 0 1 0 8 0a4 4 0 1 0 -8 0"/><path d="M3 21v-2a4 4 0 0 1 4 -4h4a4 4 0 0 1 4 4v2"/><path d="M16 3.13a4 4 0 0 1 0 7.75"/><path d="M21 21v-2a4 4 0 0 0 -3 -3.85"/></svg>
<svg class="ic" style="left:80.80px;top:495.00px" width="17.2" height="17.2" viewBox="0 0 24 24" fill="none" stroke="#6f6c7a" stroke-width="1.5" stroke-linecap="round" stroke-linejoin="round"><path d="M12.5 21h-7.500a2 2 0 0 1 -2 -2v-14a2 2 0 0 1 2 -2h14a2 2 0 0 1 2 2v7.500"/><path d="M3 10h18"/><path d="M10 3v18"/><path d="M16 19h6"/><path d="M19 16l3 3l-3 3"/></svg>
<svg class="ic" style="left:80.80px;top:560.40px" width="17.2" height="17.2" viewBox="0 0 24 24" fill="none" stroke="#6f6c7a" stroke-width="1.5" stroke-linecap="round" stroke-linejoin="round"><path d="M3 19a9 9 0 0 1 9 0a9 9 0 0 1 9 0"/><path d="M3 6a9 9 0 0 1 9 0a9 9 0 0 1 9 0"/><path d="M3 6l0 13"/><path d="M12 6l0 13"/><path d="M21 6l0 13"/></svg>
<svg class="ic" style="left:80.80px;top:589.20px" width="17.2" height="17.2" viewBox="0 0 24 24" fill="none" stroke="#6f6c7a" stroke-width="1.5" stroke-linecap="round" stroke-linejoin="round"><path d="M12 12m-4 0a4 4 0 1 0 8 0a4 4 0 1 0 -8 0"/><path d="M12 12m-9 0a9 9 0 1 0 18 0a9 9 0 1 0 -18 0"/><path d="M15 15l3.350 3.350"/><path d="M9 15l-3.350 3.350"/><path d="M5.650 5.650l3.350 3.350"/><path d="M18.350 5.650l-3.350 3.350"/></svg>
<svg class="ic" style="left:80.80px;top:654.40px" width="17.2" height="17.2" viewBox="0 0 24 24" fill="none" stroke="#6f6c7a" stroke-width="1.5" stroke-linecap="round" stroke-linejoin="round"><path d="M12 3l8 4.500l0 9l-8 4.500l-8 -4.500l0 -9l8 -4.500"/><path d="M12 12l8 -4.500"/><path d="M12 12l0 9"/><path d="M12 12l-8 -4.500"/></svg>
<svg class="ic" style="left:80.80px;top:686.40px" width="17.2" height="17.2" viewBox="0 0 24 24" fill="none" stroke="#6f6c7a" stroke-width="1.5" stroke-linecap="round" stroke-linejoin="round"><path d="M12 16v.01"/><path d="M12 13a2 2 0 0 0 .914 -3.782a1.980 1.980 0 0 0 -2.414 .483"/><path d="M10 20.777a8.942 8.942 0 0 1 -2.480 -.969"/><path d="M14 3.223a9.003 9.003 0 0 1 0 17.554"/><path d="M4.579 17.093a8.961 8.961 0 0 1 -1.227 -2.592"/><path d="M3.124 10.500c.160 -.950 .468 -1.850 .900 -2.675l.169 -.305"/><path d="M6.907 4.579a8.954 8.954 0 0 1 3.093 -1.356"/></svg>
<svg class="ic" style="left:80.80px;top:717.20px" width="17.2" height="17.2" viewBox="0 0 24 24" fill="none" stroke="#6f6c7a" stroke-width="1.5" stroke-linecap="round" stroke-linejoin="round"><path d="M6 5h12l3 5l-8.500 9.500a.700 .700 0 0 1 -1 0l-8.500 -9.500l3 -5"/><path d="M10 12l-2 -2.200l.600 -1"/></svg>
<div class="sep" style="top:133.8px"></div>
<div class="sep" style="top:372.8px"></div>
<div class="sep" style="top:533.8px"></div>
<div class="sep" style="top:628.2px"></div>
<div class="active"></div>
<svg class="ic" style="left:80.80px;top:333.20px" width="17.2" height="17.2" viewBox="0 0 24 24" fill="none" stroke="#ffffff" stroke-width="1.75" stroke-linecap="round" stroke-linejoin="round"><path d="M5.931 6.936l1.275 4.249m5.607 5.609l4.251 1.275"/><path d="M11.683 12.317l5.759 -5.759"/><path d="M5.5 5.5m-1.5 0a1.5 1.5 0 1 0 3 0a1.5 1.5 0 1 0 -3 0"/><path d="M18.5 5.5m-1.5 0a1.5 1.5 0 1 0 3 0a1.5 1.5 0 1 0 -3 0"/><path d="M18.5 18.5m-1.5 0a1.5 1.5 0 1 0 3 0a1.5 1.5 0 1 0 -3 0"/><path d="M8.5 15.5m-4.5 0a4.5 4.5 0 1 0 9 0a4.5 4.5 0 1 0 -9 0"/></svg>
<div class="outl"></div>
<svg class="ic" style="left:78px;top:48px" width="22" height="22" viewBox="78 48 22 22" fill="none" stroke="#5e57e5" stroke-width="2.05" stroke-linecap="butt" stroke-linejoin="bevel">
<path d="M85.3 66.8H80.95V49.8"/>
<path d="M92.7 66.8H97.05V49.8"/>
<path d="M80.6 50.5L89 54.3C92.9 58 92.9 63.6 89 67.3" stroke-linejoin="round"/>
<path d="M97.4 50.5L89 54.3C85.1 58 85.1 63.6 89 67.3" stroke-linejoin="round"/>
<path d="M87.8 61.4H90.2" stroke-width="1.4"/>
</svg>
 </div></div>
</div></div>
</body></html>
